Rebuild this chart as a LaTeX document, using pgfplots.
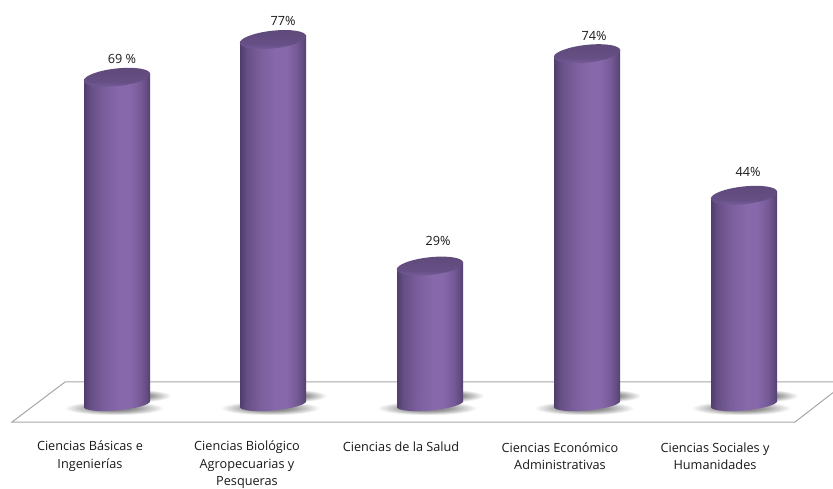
\documentclass[border=0pt]{standalone}
\usepackage{fontspec}
\setmainfont{Open Sans}
\usepackage{pgfplots}
\usepackage{pgfplotstable}
\pgfplotsset{compat=1.18}
\pgfdeclarehorizontalshading{cyl}{100bp}{rgb(0bp)=(0.31,0.24,0.42);rgb(25bp)=(0.31,0.24,0.42);rgb(30bp)=(0.40,0.31,0.52);rgb(40bp)=(0.48,0.37,0.61);rgb(52bp)=(0.53,0.41,0.67);rgb(60bp)=(0.53,0.41,0.67);rgb(68bp)=(0.46,0.35,0.59);rgb(73bp)=(0.37,0.29,0.49);rgb(75bp)=(0.32,0.25,0.43);rgb(100bp)=(0.32,0.25,0.43)}
\pgfdeclareverticalshading{captop}{100bp}{rgb(0bp)=(0.52,0.41,0.67);rgb(25bp)=(0.52,0.41,0.67);rgb(30bp)=(0.45,0.35,0.59);rgb(40bp)=(0.40,0.31,0.52);rgb(75bp)=(0.37,0.29,0.48);rgb(100bp)=(0.37,0.29,0.48)}
\pgfdeclareradialshading{glow}{\pgfpoint{0bp}{0bp}}{rgb(0bp)=(0.4,0.4,0.4);rgb(12bp)=(0.62,0.62,0.62);rgb(25bp)=(1,1,1);rgb(50bp)=(1,1,1)}
\pgfdeclareplotmark{cyltop}{\pgfpathellipse{\pgfpointorigin}{\pgfpoint{33.2pt}{3.6pt}}{\pgfpoint{-0.9pt}{8.8pt}}\pgfshadepath{captop}{0}\pgfusepath{discard}}
\pgfdeclareplotmark{cylbase}{\pgfpathellipse{\pgfpointorigin}{\pgfpoint{33.2pt}{3.0pt}}{\pgfpoint{-0.5pt}{6.5pt}}\pgfshadepath{cyl}{0}\pgfusepath{discard}}
\pgfplotstableread{
x val
117 69
273 77
430 29
587 74
744 44
}\datatable
\pgfplotsset{
  body/.style={draw=none, shading=cyl, mark=none},
  shad/.style={draw=none, shading=glow, mark=none},
}
\begin{document}
\begin{tikzpicture}
\useasboundingbox (0,0) rectangle (833pt,488pt);
\begin{axis}[
  at={(0,0)}, anchor=south west,
  scale only axis, width=833pt, height=488pt,
  xmin=0, xmax=833, ymin=-18.008, ymax=85.381,
  hide axis, clip=false,
  nodes={font=\fontsize{12.7pt}{17.5pt}\selectfont, text=black!90},
]
% floor
\addplot[draw=black!35, line width=1pt, mark=none] coordinates {(833,4.45) (65,4.45) (12,-4.03) (795,-4.03) (833,2.2)};
% shadows
\addplot[shad] coordinates {(64,0.42)(164,0.42)(164,-2.54)(64,-2.54)} -- cycle;
\addplot[shad] coordinates {(220,0.42)(320,0.42)(320,-2.54)(220,-2.54)} -- cycle;
\addplot[shad] coordinates {(377,0.42)(477,0.42)(477,-2.54)(377,-2.54)} -- cycle;
\addplot[shad] coordinates {(534,0.42)(634,0.42)(634,-2.54)(534,-2.54)} -- cycle;
\addplot[shad] coordinates {(691,0.42)(791,0.42)(791,-2.54)(691,-2.54)} -- cycle;
\addplot[shad] coordinates {(99,2.9)(171,2.9)(171,0.21)(99,0.21)} -- cycle;
\addplot[shad] coordinates {(255,2.9)(327,2.9)(327,0.21)(255,0.21)} -- cycle;
\addplot[shad] coordinates {(412,2.9)(484,2.9)(484,0.21)(412,0.21)} -- cycle;
\addplot[shad] coordinates {(569,2.9)(641,2.9)(641,0.21)(569,0.21)} -- cycle;
\addplot[shad] coordinates {(726,2.9)(798,2.9)(798,0.21)(726,0.21)} -- cycle;
% cylinders
\addplot[only marks, mark=cylbase] table [x=x, y expr=-0.2] {\datatable};
\addplot[body] coordinates {(84,-0.8)(84,68.24)(150,69.76)(150,0.4)} -- cycle;
\addplot[body] coordinates {(240,-0.8)(240,76.24)(306,77.76)(306,0.4)} -- cycle;
\addplot[body] coordinates {(397,-0.8)(397,28.24)(463,29.76)(463,0.4)} -- cycle;
\addplot[body] coordinates {(554,-0.8)(554,73.24)(620,74.76)(620,0.4)} -- cycle;
\addplot[body] coordinates {(711,-0.8)(711,43.24)(777,44.76)(777,0.4)} -- cycle;
\addplot[only marks, mark=cyltop] table [x=x, y=val] {\datatable};
% value labels
\node at (axis cs:122,72.88) {69 \%};
\node at (axis cs:283,80.93) {77\%};
\node at (axis cs:438,34.32) {29\%};
\node at (axis cs:594,77.75) {74\%};
\node at (axis cs:748,48.94) {44\%};
% category labels
\node[align=center] at (axis cs:90,-11.23) {Ciencias Básicas e\\Ingenierías};
\node[align=center] at (axis cs:247,-13.14) {Ciencias Biológico\\Agropecuarias y\\Pesqueras};
\node[align=center] at (axis cs:401,-9.32) {Ciencias de la Salud};
\node[align=center] at (axis cs:560,-11.23) {Ciencias Económico\\Administrativas};
\node[align=center] at (axis cs:715,-11.23) {Ciencias Sociales y\\Humanidades};
\end{axis}
\end{tikzpicture}
\end{document}
